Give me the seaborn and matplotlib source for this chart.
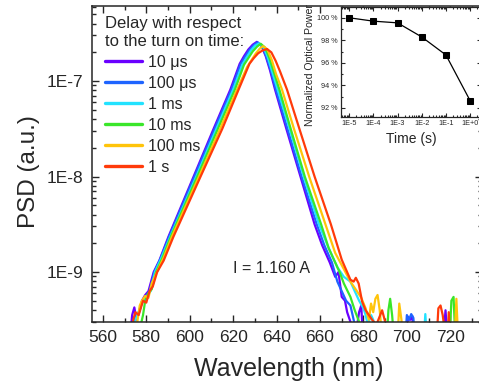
import numpy as np
import pandas as pd
import matplotlib
matplotlib.use("Agg")
import matplotlib.pyplot as plt
import matplotlib.ticker as mticker
import seaborn as sns

# legend labels and colours
delays = ["10 μs", "100 μs", "1 ms", "10 ms", "100 ms", "1 s"]
colors = ["#6a00ff", "#1e64ff", "#22e2ff", "#3ae62a", "#ffc40a", "#ff3a0a"]

# spectra: wavelength (nm) and log10(PSD)
wl_10us = [572, 573.5, 574.5, 575.5, 577, 578, 579.5, 581, 583.4, 586,
           590.2, 601.8, 611, 618.7, 623, 625, 627, 629, 630.9, 633,
           635, 637, 639.3, 644.5, 651, 657.5, 661, 664.5, 667, 668.5,
           670, 671.5, 672.5, 674, 675.5, 678, 679, 680, 699.5, 700.5,
           701.5, 702.5, 703.5, 716.5, 717.8, 719]
lg_10us = [-9.8, -9.45, -9.37, -9.5, -9.4, -9.3, -9.24, -9.2, -9.0, -8.88,
           -8.63, -8.0, -7.5, -7.09, -6.82, -6.74, -6.67, -6.62, -6.59, -6.63,
           -6.74, -6.89, -7.09, -7.5, -8.0, -8.5, -8.72, -8.9, -9.05, -9.0,
           -9.26, -9.3, -9.42, -9.52, -9.8, -9.42, -9.35, -9.8, -9.8, -9.47,
           -9.5, -9.46, -9.8, -9.8, -9.4, -9.8]

wl_100us = [573, 574.5, 576, 578, 580, 581.5, 583.7, 586.5, 590.5, 602.2,
            611.5, 619.2, 623.4, 625.5, 627.5, 629.5, 631.3, 633.3, 635.3, 637.4,
            639.7, 645, 651.5, 658.5, 662, 665.5, 668, 670, 672, 674,
            675, 676, 677, 699, 700, 701, 702, 703, 704]
lg_100us = [-9.8, -9.5, -9.45, -9.32, -9.25, -9.2, -9.0, -8.86, -8.63, -8.0,
            -7.5, -7.09, -6.825, -6.745, -6.675, -6.625, -6.595, -6.635, -6.745, -6.895,
            -7.09, -7.5, -8.0, -8.5, -8.72, -8.9, -9.1, -9.2, -9.3, -9.35,
            -9.45, -9.55, -9.8, -9.8, -9.45, -9.5, -9.44, -9.48, -9.8]

wl_1ms = [574, 575, 576.5, 578.5, 580, 582, 584, 587, 591, 603,
          612.3, 620, 624.2, 626.3, 628.2, 630.1, 632, 634, 636, 638,
          640.5, 646, 652.5, 659.5, 664, 668, 671, 674, 676, 678,
          680, 681, 682, 683.5, 684.5, 686, 707.5, 708.5, 709.5]
lg_1ms = [-9.8, -9.5, -9.42, -9.3, -9.26, -9.2, -9.0, -8.85, -8.63, -8.0,
          -7.5, -7.09, -6.83, -6.75, -6.68, -6.63, -6.605, -6.645, -6.755, -6.905,
          -7.09, -7.5, -8.0, -8.5, -8.75, -8.95, -9.05, -9.1, -9.2, -9.3,
          -9.38, -9.45, -9.55, -9.45, -9.5, -9.8, -9.8, -9.44, -9.8]

wl_10ms = [576.5, 577.5, 578.5, 579.5, 581, 582.5, 584.5, 587.5, 591.3, 603.5,
           613, 620.8, 625, 627, 629, 631, 632.7, 634.7, 636.7, 638.8,
           641.3, 646.5, 653, 660.5, 664, 667, 669, 671, 674, 676,
           678, 679, 690.5, 691.5, 692.3, 693.2, 694.5, 719.5, 720.5, 721.5,
           722.5]
lg_10ms = [-9.8, -9.55, -9.45, -9.3, -9.22, -9.18, -9.0, -8.85, -8.63, -8.0,
           -7.5, -7.09, -6.83, -6.76, -6.69, -6.64, -6.61, -6.65, -6.76, -6.91,
           -7.09, -7.5, -8.0, -8.5, -8.75, -8.9, -9.0, -9.12, -9.26, -9.4,
           -9.52, -9.8, -9.8, -9.4, -9.28, -9.45, -9.8, -9.8, -9.3, -9.26,
           -9.8]

wl_100ms = [575, 576, 577, 578, 579.5, 581, 582.5, 584.5, 588, 591.8,
            604.3, 614, 621.8, 626.5, 628.5, 630.5, 632.3, 633.8, 635.8, 637.8,
            639.8, 642.5, 648, 655, 662.5, 667, 671, 674, 677, 679,
            681, 682.5, 683.5, 684.5, 685.5, 686.5, 687.5, 689, 695.5, 696.5,
            697.5, 698.5, 721.8, 722.8, 723.8]
lg_100ms = [-9.8, -9.5, -9.35, -9.3, -9.25, -9.27, -9.12, -9.02, -8.85, -8.63,
            -8.0, -7.5, -7.09, -6.85, -6.78, -6.71, -6.66, -6.635, -6.67, -6.78,
            -6.93, -7.09, -7.5, -8.0, -8.5, -8.8, -8.97, -9.1, -9.2, -9.27,
            -9.38, -9.5, -9.33, -9.42, -9.28, -9.24, -9.4, -9.8, -9.8, -9.33,
            -9.5, -9.8, -9.8, -9.28, -9.8]

wl_1s = [573, 574, 575, 576.5, 578.5, 580, 581.5, 583, 585, 588,
         592.5, 605, 615, 622.5, 627.5, 629.5, 631.5, 633.5, 635.6, 637.6,
         639.6, 641.6, 644.8, 650.5, 657.5, 665, 670, 674, 675.5, 676.5,
         677.8, 679.4, 681, 684, 686, 688.6, 690, 691.5, 713.5, 714.5,
         715.5, 716.5, 718.5, 719.3, 720.2]
lg_1s = [-9.8, -9.5, -9.42, -9.45, -9.3, -9.32, -9.2, -9.15, -9.0, -8.88,
         -8.63, -8.0, -7.5, -7.09, -6.82, -6.76, -6.71, -6.68, -6.665, -6.70,
         -6.79, -6.90, -7.09, -7.5, -8.0, -8.5, -8.87, -9.08, -9.1, -9.06,
         -9.12, -9.31, -9.4, -9.5, -9.55, -9.4, -9.52, -9.8, -9.8, -9.38,
         -9.35, -9.45, -9.8, -9.42, -9.8]

# inset: normalized optical power vs time
time_s = [1e-5, 1e-4, 1e-3, 1e-2, 1e-1, 1.0]
power_pct = [100.0, 99.7, 99.55, 98.3, 96.7, 92.65]

y_ticks = [1e-9, 1e-8, 1e-7]
x_ticks = [560, 580, 600, 620, 640, 660, 680, 700, 720]
inset_yticks = [92, 94, 96, 98, 100]
inset_xticks = [1e-5, 1e-4, 1e-3, 1e-2, 1e-1, 1.0]
inset_xticklabels = ["1E-5", "1E-4", "1E-3", "1E-2", "1E-1", "1E+0"]

series = [(wl_10us, lg_10us), (wl_100us, lg_100us), (wl_1ms, lg_1ms),
          (wl_10ms, lg_10ms), (wl_100ms, lg_100ms), (wl_1s, lg_1s)]
frames = []
for name, (wl, lg) in zip(delays, series):
    frames.append(pd.DataFrame({"wl": wl, "psd": 10.0 ** np.array(lg), "delay": name}))
df = pd.concat(frames, ignore_index=True)

sns.set_style("ticks")
plt.rcParams["font.family"] = ["Liberation Sans", "DejaVu Sans"]

W, H = 479, 383
fig = plt.figure(figsize=(W / 100, H / 100), dpi=100)
ax = fig.add_axes([92 / W, 1 - 322 / H, (482 - 92) / W, (322 - 6) / H])

sns.lineplot(data=df, x="wl", y="psd", hue="delay", hue_order=delays,
             palette=dict(zip(delays, colors)), estimator=None, sort=False,
             linewidth=1.6, ax=ax)
ax.set_yscale("log")
ax.set_xlim(555.0, 734.6)
ax.set_ylim(3.0e-10, 6.1e-7)

ax.yaxis.set_major_locator(mticker.FixedLocator(y_ticks))
ax.yaxis.set_major_formatter(mticker.FuncFormatter(lambda v, p: f"1E{int(round(np.log10(v)))}"))
ax.yaxis.set_minor_locator(mticker.LogLocator(base=10, subs=np.arange(2, 10)))
ax.yaxis.set_minor_formatter(mticker.NullFormatter())
ax.xaxis.set_major_locator(mticker.FixedLocator(x_ticks))
ax.xaxis.set_minor_locator(mticker.MultipleLocator(10))

ax.tick_params(which="both", direction="in", top=True, right=True, width=1)
ax.tick_params(which="major", length=5, labelsize=12.5, pad=6)
ax.tick_params(which="minor", length=3)
for s in ax.spines.values():
    s.set_linewidth(1.1)

ax.set_xlabel("Wavelength (nm)", fontsize=18)
ax.set_ylabel("PSD (a.u.)", fontsize=17.5)
ax.xaxis.set_label_coords(0.505, -0.112)
ax.yaxis.set_label_coords(-0.134, 0.475)

handles, labels = ax.get_legend_handles_labels()
leg = ax.legend(handles, labels, title="Delay with respect\nto the turn on time:",
                loc="upper left", bbox_to_anchor=(0.018, 0.99), frameon=False,
                fontsize=11.5, title_fontsize=12, alignment="left",
                handlelength=2.3, handletextpad=0.35, labelspacing=0.37,
                borderaxespad=0)
leg.get_title().set_linespacing(1.3)
for h in leg.get_lines():
    h.set_linewidth(2.4)

ax.annotate("I = 1.160 A", xy=((271.7 - 92) / 390, (322 - 268.3) / 316),
            xycoords="axes fraction", ha="center", va="center", fontsize=11.5)

# inset
ins = fig.add_axes([340.7 / W, 1 - 117 / H, (481 - 340.7) / W, (117 - 6.5) / H])
ins.set_facecolor("white")
sns.lineplot(x=time_s, y=power_pct, color="black", marker="s", markersize=4.8,
             markeredgecolor="black", linewidth=0.9, ax=ins)
ins.set_xscale("log")
ins.set_xlim(10 ** -5.35, 10 ** 0.45)
ins.set_ylim(91.2, 101.0)
ins.xaxis.set_major_locator(mticker.FixedLocator(inset_xticks))
ins.xaxis.set_major_formatter(mticker.FixedFormatter(inset_xticklabels))
ins.xaxis.set_minor_locator(mticker.LogLocator(base=10, subs=np.arange(2, 10)))
ins.xaxis.set_minor_formatter(mticker.NullFormatter())
ins.yaxis.set_major_locator(mticker.FixedLocator(inset_yticks))
ins.yaxis.set_major_formatter(mticker.FuncFormatter(lambda v, p: f"{int(v)} %"))
ins.yaxis.set_minor_locator(mticker.MultipleLocator(1))
ins.tick_params(which="both", direction="in", top=True, right=True, width=0.8)
ins.tick_params(which="major", length=3, labelsize=5.2, pad=2)
ins.tick_params(which="minor", length=1.5)
for s in ins.spines.values():
    s.set_linewidth(0.9)
ins.set_xlabel("Time (s)", fontsize=10)
ins.set_ylabel("Normalized Optical Power", fontsize=7.6)
ins.yaxis.set_label_coords(-0.183, 0.475)

fig.savefig("out.png", dpi=100)
